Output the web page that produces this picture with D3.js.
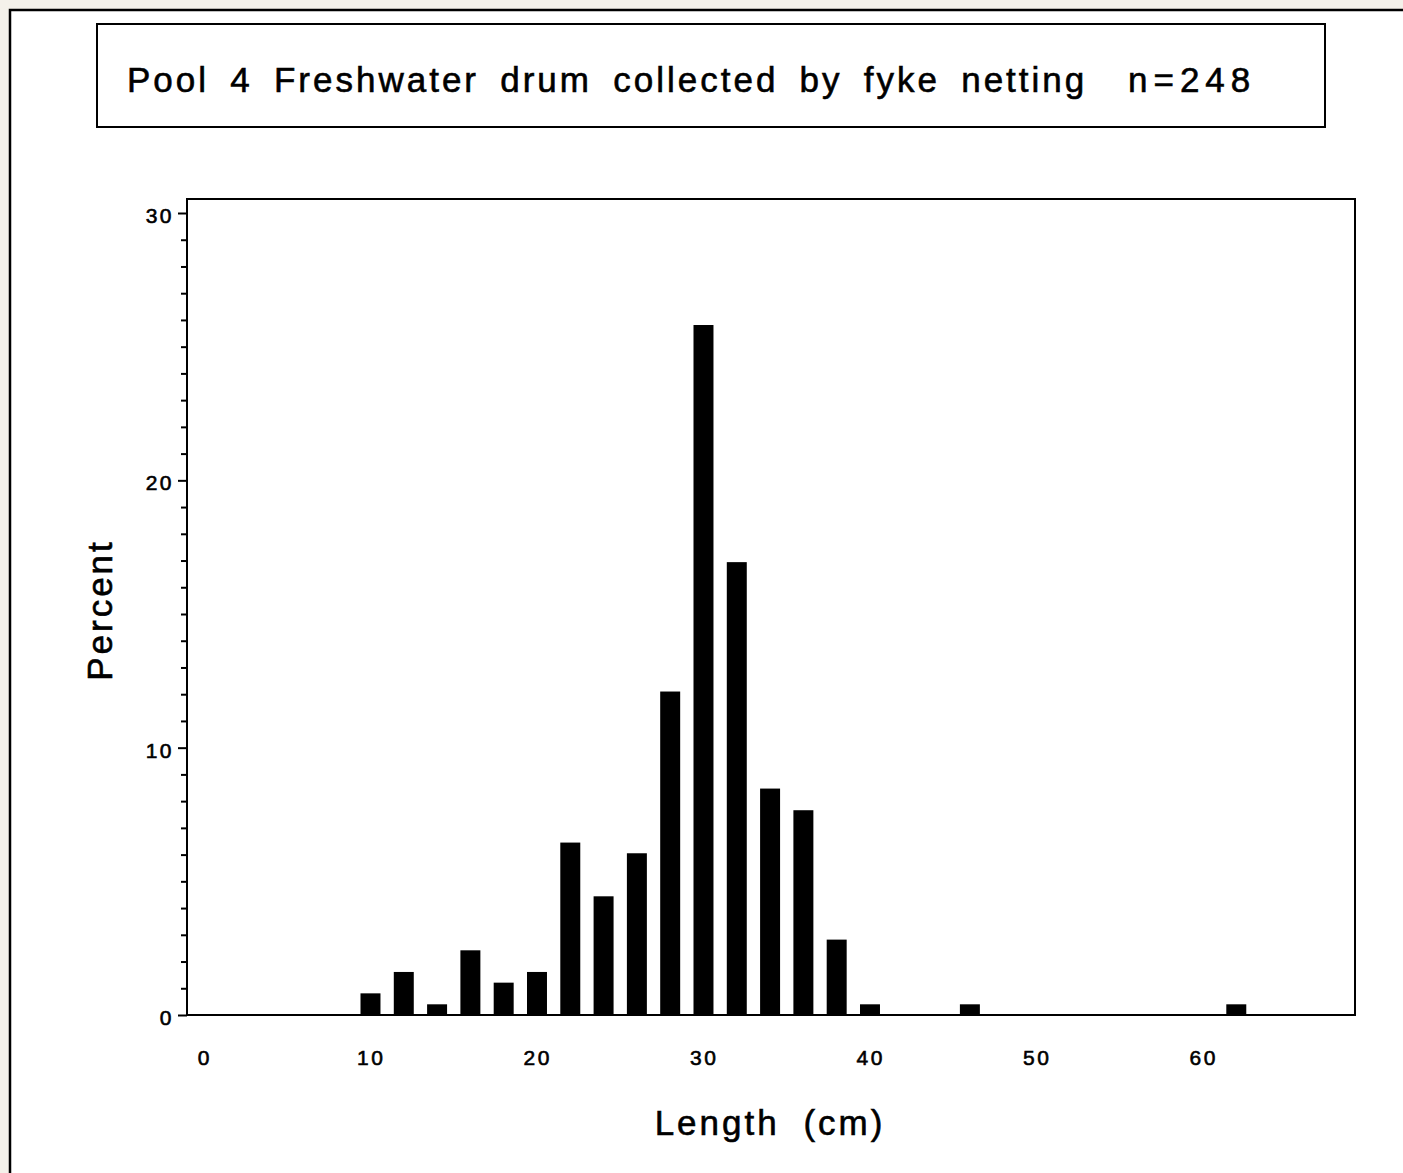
<!DOCTYPE html>
<html>
<head>
<meta charset="utf-8">
<script src="https://cdn.jsdelivr.net/npm/d3@7"></script>
<style>
  html, body { margin: 0; padding: 0; background: #f4f1ea; }
  svg { display: block; }
  text { font-family: "Liberation Sans", Arial, sans-serif; fill: #000; stroke: #000; stroke-width: 0.6px; }
</style>
</head>
<body>
<svg id="chart" width="1403" height="1173"></svg>
<script>
// ---- data ----
const titleText = "Pool 4 Freshwater drum collected by fyke netting";
const titleN = "n=248";
const xLabel = "Length (cm)";
const yLabel = "Percent";
const lengths = [10, 12, 14, 16, 18, 20, 22, 24, 26, 28, 30, 32, 34, 36, 38, 40, 46, 62];
const percents = [0.81, 1.61, 0.40, 2.42, 1.21, 1.61, 6.45, 4.44, 6.05, 12.10, 25.81, 16.94, 8.47, 7.66, 2.82, 0.40, 0.40, 0.40];
const xTicks = [0, 10, 20, 30, 40, 50, 60];
const yTicks = [0, 10, 20, 30];
const yMinorTicks = d3.range(0, 31, 1);

// ---- layout ----
const W = 1403, H = 1173;
const plotL = 187, plotR = 1355, plotT = 199, plotB = 1015;
const barWidthUnits = 1.2;

const svg = d3.select("#chart");

svg.append("rect").attr("x", 0).attr("y", 0).attr("width", W).attr("height", H).attr("fill", "#f4f1ea");
svg.append("rect")
  .attr("x", 10).attr("y", 10).attr("width", W + 20).attr("height", H + 20)
  .attr("fill", "#fff").attr("stroke", "#000").attr("stroke-width", 2.5);

// title box
svg.append("rect")
  .attr("x", 97).attr("y", 24).attr("width", 1228).attr("height", 103)
  .attr("fill", "#fff").attr("stroke", "#000").attr("stroke-width", 2);

const title = svg.append("text")
  .attr("x", 127).attr("y", 92)
  .style("font-size", "35px")
  .style("letter-spacing", "3px")
  .style("word-spacing", "8.5px")
  .text(titleText);
title.append("tspan").attr("x", 1128).style("letter-spacing", "6px").text(titleN);

// scales
const x = d3.scaleLinear().domain([-0.96, 69.19]).range([plotL, plotR]);
const y = d3.scaleLinear().domain([0, 30]).range([plotB, 213]);

// bars
svg.append("g").selectAll("rect")
  .data(lengths.map((l, i) => ({ l, p: percents[i] })))
  .join("rect")
  .attr("x", d => x(d.l - barWidthUnits / 2) + 1)
  .attr("width", d => x(barWidthUnits) - x(0))
  .attr("y", d => y(d.p))
  .attr("height", d => plotB - y(d.p))
  .attr("fill", "#000");

// plot frame
svg.append("rect")
  .attr("x", plotL).attr("y", plotT)
  .attr("width", plotR - plotL).attr("height", plotB - plotT)
  .attr("fill", "none").attr("stroke", "#000").attr("stroke-width", 2);

// y axis: minor ticks
const yAxisMinor = d3.axisLeft(y).tickValues(yMinorTicks.filter(v => v % 10 !== 0))
  .tickSize(6).tickFormat("");
svg.append("g").attr("transform", `translate(${plotL},0)`).call(yAxisMinor)
  .call(g => g.select(".domain").remove())
  .call(g => g.selectAll("line").attr("stroke", "#000").attr("stroke-width", 2));

// y axis: major ticks with labels
const yAxis = d3.axisLeft(y).tickValues(yTicks).tickSize(9).tickPadding(4).tickFormat(d3.format("d"));
svg.append("g").attr("transform", `translate(${plotL},0)`).call(yAxis)
  .call(g => g.select(".domain").remove())
  .call(g => g.selectAll("line").attr("stroke", "#000").attr("stroke-width", 2))
  .call(g => g.selectAll("text")
    .attr("font-family", null)
    .attr("fill", "#000")
    .style("font-size", "21px")
    .style("letter-spacing", "2.5px")
    .attr("dy", "0.45em"));

// x axis: labels only (no tick marks)
const xAxis = d3.axisBottom(x).tickValues(xTicks).tickSize(0).tickPadding(35).tickFormat(d3.format("d"));
svg.append("g").attr("transform", `translate(0,${plotB})`).call(xAxis)
  .call(g => g.select(".domain").remove())
  .call(g => g.selectAll("text")
    .attr("font-family", null)
    .attr("fill", "#000")
    .style("font-size", "21px")
    .style("letter-spacing", "2.5px")
    .attr("dx", "0.06em"));

// axis titles
svg.append("text")
  .attr("x", 770).attr("y", 1135)
  .attr("text-anchor", "middle")
  .style("font-size", "35px")
  .style("letter-spacing", "3px")
  .style("word-spacing", "11px")
  .text(xLabel);

svg.append("text")
  .attr("transform", "translate(112,610) rotate(-90)")
  .attr("text-anchor", "middle")
  .style("font-size", "35px")
  .style("letter-spacing", "3px")
  .text(yLabel);
</script>
</body>
</html>
